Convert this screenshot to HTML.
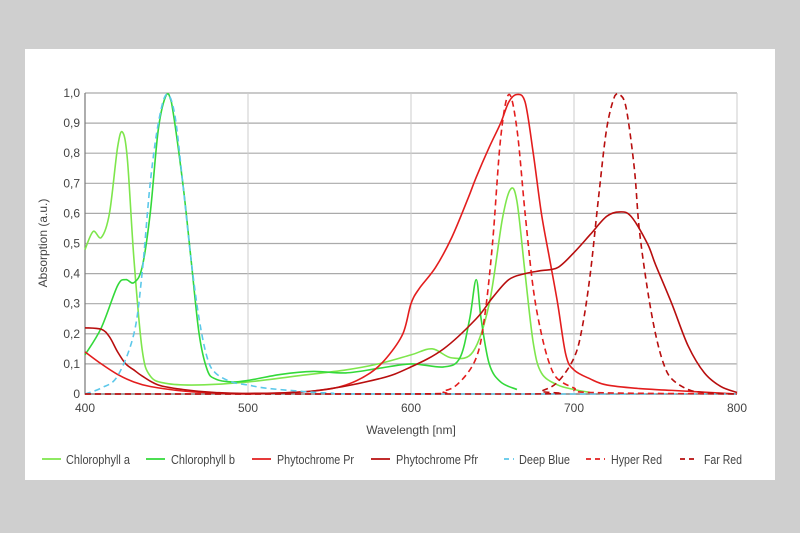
<!DOCTYPE html>
<html><head><meta charset="utf-8"><style>
body{margin:0;width:800px;height:533px;background:#cfcfcf;overflow:hidden;font-family:"Liberation Sans",sans-serif}
#card{position:absolute;left:25px;top:49px;width:750px;height:431px;background:#fff}
svg{position:absolute;left:0;top:0}
text{font-family:"Liberation Sans",sans-serif;font-size:12px;fill:#444}
</style></head><body>
<div id="card"></div>
<svg id="chart" width="800" height="533"></svg>
<script>
const xTicks=[400,500,600,700,800];
const yTicks=[0,0.1,0.2,0.3,0.4,0.5,0.6,0.7,0.8,0.9,1.0];
const yTickLabels=["0","0,1","0,2","0,3","0,4","0,5","0,6","0,7","0,8","0,9","1,0"];
const chlA=[[400,0.48],[405,0.54],[410,0.52],[415,0.6],[420,0.82],[423,0.87],[426,0.78],[430,0.45],[435,0.15],[440,0.06],[450,0.035],[470,0.03],[500,0.04],[530,0.06],[560,0.08],[580,0.1],[600,0.13],[613,0.15],[625,0.12],[638,0.14],[648,0.3],[656,0.58],[661,0.68],[665,0.64],[670,0.4],[675,0.17],[680,0.07],[690,0.03],[700,0.015],[710,0.005]];
const chlB=[[400,0.13],[410,0.22],[420,0.36],[425,0.38],[430,0.37],[435,0.42],[440,0.6],[445,0.88],[450,0.995],[453,0.97],[460,0.7],[465,0.45],[470,0.2],[475,0.08],[480,0.05],[490,0.04],[500,0.045],[520,0.065],[540,0.075],[560,0.07],[580,0.085],[600,0.1],[620,0.09],[630,0.12],[636,0.25],[640,0.38],[643,0.25],[648,0.1],[655,0.04],[665,0.015]];
const pr=[[400,0.14],[410,0.1],[420,0.065],[430,0.04],[440,0.025],[460,0.01],[480,0.003],[500,0],[540,0.01],[560,0.03],[575,0.07],[585,0.12],[595,0.2],[600,0.3],[605,0.35],[615,0.42],[625,0.52],[635,0.65],[640,0.72],[648,0.82],[655,0.9],[660,0.97],[665,0.995],[670,0.97],[675,0.8],[680,0.6],[685,0.45],[690,0.3],[695,0.13],[700,0.08],[710,0.05],[720,0.03],[740,0.018],[760,0.012],[800,0]];
const pfr=[[400,0.22],[410,0.215],[415,0.19],[420,0.14],[425,0.1],[430,0.08],[435,0.06],[445,0.03],[460,0.015],[480,0.005],[500,0.002],[540,0.01],[580,0.05],[600,0.09],[620,0.15],[640,0.25],[650,0.32],[660,0.38],[670,0.4],[680,0.41],[690,0.42],[700,0.47],[710,0.53],[720,0.59],[728,0.605],[735,0.59],[745,0.5],[750,0.43],[760,0.3],[770,0.16],[780,0.07],[790,0.025],[800,0.005]];
const deepBlue=[[400,0],[410,0.02],[420,0.06],[430,0.2],[435,0.4],[440,0.7],[445,0.9],[450,0.995],[455,0.93],[460,0.7],[465,0.45],[470,0.25],[475,0.12],[480,0.07],[490,0.04],[500,0.03],[510,0.02],[530,0.01],[550,0.003],[580,0],[800,0]];
const hyperRed=[[400,0],[600,0],[620,0.01],[630,0.04],[640,0.12],[645,0.25],[650,0.5],[655,0.85],[660,0.995],[665,0.88],[670,0.6],[675,0.35],[680,0.2],[685,0.1],[690,0.05],[700,0.02],[710,0.005],[800,0]];
const farRed=[[400,0],[670,0],[680,0.01],[690,0.04],[700,0.12],[705,0.22],[710,0.4],[715,0.65],[720,0.88],[725,0.99],[728,0.995],[732,0.95],[737,0.75],[740,0.55],[745,0.35],[750,0.2],[755,0.1],[760,0.05],[770,0.015],[780,0.005],[800,0]];
const seriesNames=["Chlorophyll a","Chlorophyll b","Phytochrome Pr","Phytochrome Pfr","Deep Blue","Hyper Red","Far Red"];

const X0=85,X1=737,Y0=394,Y1=93;
const xs=v=>X0+(v-400)/400*(X1-X0);
const ys=v=>Y0-v*(Y0-Y1);
const svg=document.getElementById('chart');
const NS='http://www.w3.org/2000/svg';
function mk(tag,attrs,parent){const e=document.createElementNS(NS,tag);for(const k in attrs)e.setAttribute(k,attrs[k]);(parent||svg).appendChild(e);return e;}
yTicks.forEach((t,i)=>{
 const l=mk('line',{x1:X0,x2:X1,y1:ys(t),y2:ys(t),stroke:'#aaa','stroke-width':1.2});
 
 
 const tx=mk('text',{x:X0-5,y:ys(t)+4,'text-anchor':'end'});tx.textContent=yTickLabels[i];
 
 
});
xTicks.forEach(t=>{
 const l=mk('line',{x1:xs(t),x2:xs(t),y1:Y1,y2:Y0,stroke:'#ccc','stroke-width':1});
 
 
 const tx=mk('text',{x:xs(t),y:Y0+18,'text-anchor':'middle'});tx.textContent=t;
 
 
});
const ax=mk('path',{d:`M${X0},${Y1}V${Y0}H${X1}`,stroke:'#777',fill:'none','stroke-width':1.2});


const xt=mk('text',{x:411,y:434,'text-anchor':'middle'});xt.textContent='Wavelength [nm]';


const yt=mk('text',{x:47,y:243,'text-anchor':'middle',transform:'rotate(-90 47 243)'});yt.textContent='Absorption (a.u.)';


function pathD(pts){
 const p=pts.map(q=>[xs(q[0]),ys(q[1])]);
 let d=`M${p[0][0]},${p[0][1]}`;
 for(let i=0;i<p.length-1;i++){
  const a=p[Math.max(0,i-1)],b=p[i],c=p[i+1],e=p[Math.min(p.length-1,i+2)];
  const c1=[b[0]+(c[0]-a[0])/6,b[1]+(c[1]-a[1])/6],c2=[c[0]-(e[0]-b[0])/6,c[1]-(e[1]-b[1])/6];
  d+=`C${c1[0]},${Math.min(Y0,Math.max(Y1,c1[1]))} ${c2[0]},${Math.min(Y0,Math.max(Y1,c2[1]))} ${c[0]},${c[1]}`;
 }
 return d;
}
const styles=[
 {data:chlA,color:'#7ee64c',dash:null,name:'chlorophyll-a-line'},
 {data:chlB,color:'#33d93a',dash:null,name:'chlorophyll-b-line'},
 {data:pr,color:'#e31e1e',dash:null,name:'phytochrome-pr-line'},
 {data:pfr,color:'#b80e0e',dash:null,name:'phytochrome-pfr-line'},
 {data:deepBlue,color:'#5cc8ea',dash:'6,4',name:'deep-blue-line'},
 {data:hyperRed,color:'#e31e1e',dash:'6,4',name:'hyper-red-line'},
 {data:farRed,color:'#b80e0e',dash:'6,4',name:'far-red-line'}];
styles.forEach(s=>{
 const a={d:pathD(s.data),stroke:s.color,fill:'none','stroke-width':1.6};
 if(s.dash)a['stroke-dasharray']=s.dash;
 const p=mk('path',a);
 
 
});
const legX=[42,146,252,371,504,586,680];
const legL=[19,19,19,19,10,19,18];
const legT=[66,171,277,396,519,611,704];
const legW=[64,64,77,82,51,51,38];
styles.forEach((s,i)=>{
 const g=mk('g',{});
 
 
 const a={x1:legX[i],x2:legX[i]+legL[i],y1:459,y2:459,stroke:s.color,'stroke-width':1.8};
 if(s.dash)a['stroke-dasharray']='5,4';
 mk('line',a,g);
 const t=mk('text',{x:legT[i],y:464,textLength:legW[i],lengthAdjust:'spacingAndGlyphs',style:'font-size:13px'},g);t.textContent=seriesNames[i];
});
</script>
</body></html>
